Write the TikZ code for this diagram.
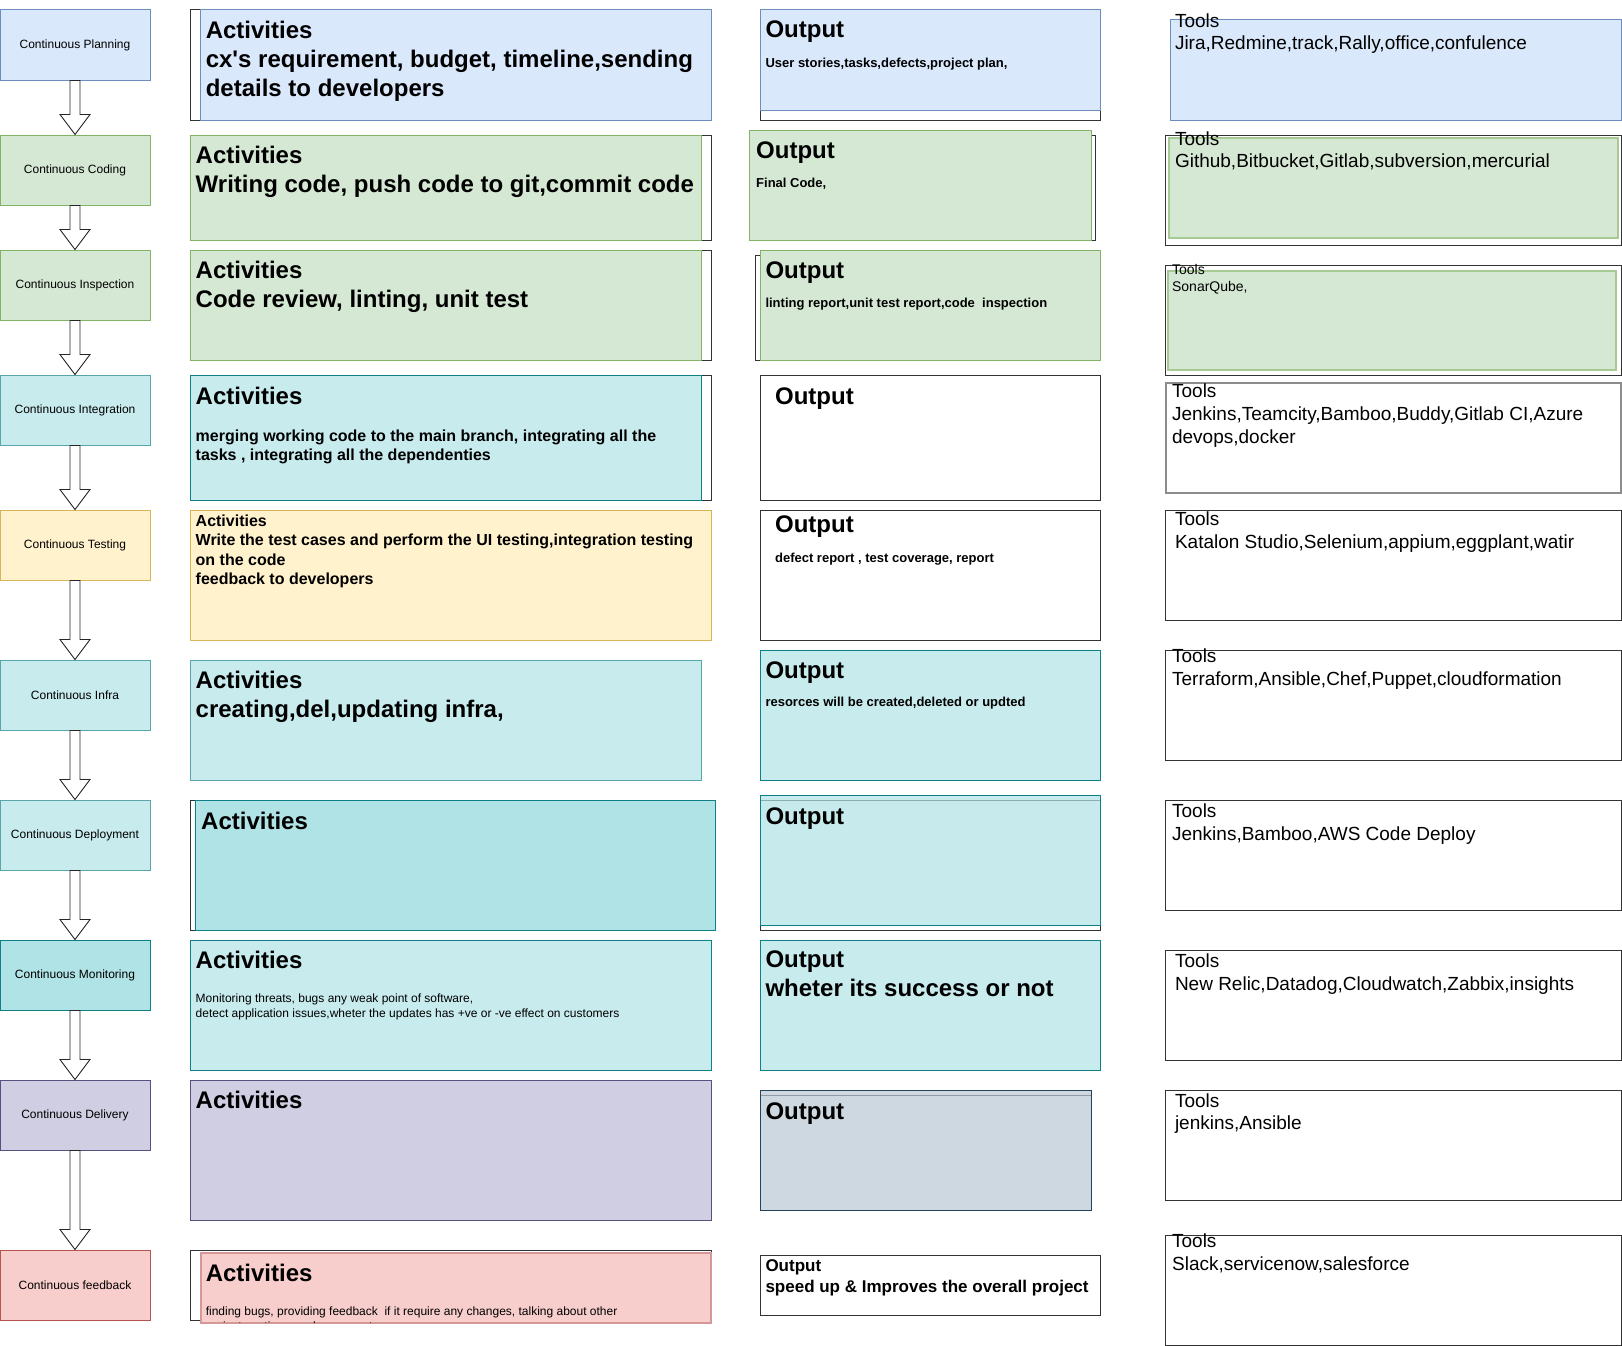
\documentclass[tikz,border=0pt]{standalone}
\usepackage{fontspec}
\setmainfont{Liberation Sans}
\usetikzlibrary{calc}

\definecolor{planfill}{HTML}{DAE8FC}
\definecolor{planline}{HTML}{6C8EBF}
\definecolor{codefill}{HTML}{D5E8D4}
\definecolor{codeline}{HTML}{82B366}
\definecolor{testfill}{HTML}{FFF2CC}
\definecolor{testline}{HTML}{D6B656}
\definecolor{cyanfill}{HTML}{B0E3E6}
\definecolor{cyanline}{HTML}{0E8088}
\definecolor{palefill}{HTML}{C8EBEE}
\definecolor{paleline}{HTML}{56A6AC}
\definecolor{delfill}{HTML}{D0CEE2}
\definecolor{delline}{HTML}{56517E}
\definecolor{fbfill}{HTML}{F8CECC}
\definecolor{fbline}{HTML}{B85450}
\definecolor{grayfill}{HTML}{BAC8D3}
\definecolor{grayline}{HTML}{23445D}

\begin{document}
\begin{tikzpicture}[x=1pt, y=-1pt, line width=1pt,
    stage/.style={draw, minimum width=150pt, minimum height=70pt, inner sep=0pt,
      font=\fontsize{12}{14.4}\selectfont},
    boxframe/.style={draw=black!80, fill=white},
    txt/.style={anchor=north west, inner sep=0pt, align=left,
      execute at begin node={\rule{0pt}{.75em}}},
    txtbig/.style={txt, font=\bfseries\fontsize{24}{28.8}\selectfont},
    txtmid/.style={txt, font=\bfseries\fontsize{16}{19.2}\selectfont},
    txtsmall/.style={txt, font=\bfseries\fontsize{13}{15.6}\selectfont},
    txtnote/.style={txt, font=\fontsize{12}{14.4}\selectfont},
    txttool/.style={txt, font=\fontsize{19}{22.8}\selectfont},
    blockarrow/.style={draw=black!85, fill=white, line width=.9pt}]
    \useasboundingbox (0,0) rectangle (1622,1346);

    % stages
    \node[stage, fill=planfill, draw=planline] (plan) at (75,45) {Continuous Planning};
    \node[stage, fill=codefill, draw=codeline] (code) at (75,170) {Continuous Coding};
    \node[stage, fill=codefill, draw=codeline] (insp) at (75,285) {Continuous Inspection};
    \node[stage, fill=palefill, draw=paleline] (integ) at (75,410) {Continuous Integration};
    \node[stage, fill=testfill, draw=testline] (test) at (75,545) {Continuous Testing};
    \node[stage, fill=palefill, draw=paleline] (infra) at (75,695) {Continuous Infra};
    \node[stage, fill=palefill, draw=paleline] (deploy) at (75,835) {Continuous Deployment};
    \node[stage, fill=cyanfill, draw=cyanline] (monitor) at (75,975) {Continuous Monitoring};
    \node[stage, fill=delfill, draw=delline] (deliver) at (75,1115) {Continuous Delivery};
    \node[stage, fill=fbfill, draw=fbline] (feedback) at (75,1285) {Continuous feedback};

    % block arrows between stages
    \foreach \a/\b in {plan/code, code/insp, insp/integ, integ/test, test/infra,
        infra/deploy, deploy/monitor, monitor/deliver, deliver/feedback}
      \draw[blockarrow] let \p1=(\a.south), \p2=(\b.north) in
        (\x1-5pt,\y1) -- (\x1+5pt,\y1) -- (\x1+5pt,\y2+20pt) -- (\x1+15pt,\y2+20pt)
        -- (\x2,\y2) -- (\x1-15pt,\y2+20pt) -- (\x1-5pt,\y2+20pt) -- cycle;

    % activities
    \draw[boxframe] (190.5,10) rectangle (711,120);
    \draw[fill=planfill, draw=planline] (200.7,10) rectangle (711,120);
    \node[txtbig] (act1) at (205.3,21) {Activities\\cx\textquotesingle s requirement, budget, timeline,sending\\details to developers};

    \draw[boxframe] (190.5,135) rectangle (711,240);
    \draw[fill=codefill, draw=codeline] (190.5,135) rectangle (701,240);
    \node[txtbig] (act2) at (195.2,146) {Activities\\Writing code, push code to git,commit code};

    \draw[boxframe] (190.5,250) rectangle (711,360);
    \draw[fill=codefill, draw=codeline] (190.5,250) rectangle (701,360);
    \node[txtbig] (act3) at (195.2,260.5) {Activities\\Code review, linting, unit test};

    \draw[boxframe] (190.5,375) rectangle (711,500);
    \draw[fill=palefill, draw=cyanline] (190.5,375) rectangle (701,500);
    \node[txtbig] (act4) at (195.2,385.5) {Activities};
    \node[txtmid] (act4b) at (195.2,429) {merging working code to the main branch, integrating all the\\tasks , integrating all the dependenties};

    \draw[fill=testfill, draw=testline] (190.5,510) rectangle (711,640);
    \node[txtmid] (act5) at (195.2,514.5) {Activities\\Write the test cases and perform the UI testing,integration testing\\on the code\\feedback to developers};

    \draw[fill=palefill, draw=paleline] (190.5,660) rectangle (701,780);
    \node[txtbig] (act6) at (195.2,671) {Activities\\creating,del,updating infra,};

    \draw[boxframe] (190.5,800) rectangle (711,930);
    \draw[fill=cyanfill, draw=cyanline] (195.2,800) rectangle (715.4,930);
    \node[txtbig] (act7) at (200.7,810.5) {Activities};

    \draw[fill=palefill, draw=cyanline] (190.5,940) rectangle (711,1070);
    \node[txtbig] (act8) at (195.2,950) {Activities};
    \node[txtnote] (act8b) at (195.2,993.7) {Monitoring threats, bugs any weak point of software,\\detect application issues,wheter the updates has +ve or -ve effect on customers};

    \draw[fill=delfill, draw=delline] (190.5,1080) rectangle (711,1220);
    \node[txtbig] (act9) at (195.2,1089.5) {Activities};

    \draw[boxframe] (190.5,1250) rectangle (711,1320);
    \draw[fill=fbfill, draw=fbline!60, line width=1.6pt] (200.7,1252.7) rectangle (711,1322.7);
    \node[txtbig] (act10) at (205.3,1262.5) {Activities};
    \begin{scope}
      \clip (200.7,1252.7) rectangle (711,1322);
      \node[txtnote] (act10b) at (205.3,1306.5) {finding bugs, providing feedback \ if it require any changes, talking about other\\project continues enhancement};
    \end{scope}

    % outputs
    \draw[boxframe] (760.3,10) rectangle (1100.8,120);
    \draw[fill=planfill, draw=planline] (760.3,10) rectangle (1100.8,110);
    \node[txtbig] (out1) at (765,19.5) {Output};
    \node[txtsmall] (out1b) at (765,57.3) {User stories,tasks,defects,project plan,};

    \draw[boxframe] (749.9,135) rectangle (1095.6,240);
    \draw[fill=codefill, draw=codeline] (749.9,130) rectangle (1091,240);
    \node[txtbig] (out2) at (755.7,140) {Output};
    \node[txtsmall] (out2b) at (755.7,177.4) {Final Code,};

    \draw[boxframe] (755.7,255) rectangle (1100.8,360);
    \draw[fill=codefill, draw=codeline] (760.3,250) rectangle (1100.8,360);
    \node[txtbig] (out3) at (765,259.5) {Output};
    \node[txtsmall] (out3b) at (765,297.4) {linting report,unit test report,code \ inspection};

    \draw[boxframe] (760.3,375) rectangle (1100.8,500);
    \node[txtbig] (out4) at (774.6,385.5) {Output};

    \draw[boxframe] (760.3,510) rectangle (1100.8,640);
    \node[txtbig] (out5) at (774.6,514) {Output};
    \node[txtsmall] (out5b) at (774.6,551.8) {defect report , test coverage, report};

    \draw[fill=palefill, draw=cyanline] (760.3,650) rectangle (1100.8,780);
    \node[txtbig] (out6) at (765,659.8) {Output};
    \node[txtsmall] (out6b) at (765,696.7) {resorces will be created,deleted or updted};

    \draw[boxframe] (760.3,800.7) rectangle (1100.8,930);
    \draw[fill=cyanfill, fill opacity=.7, draw=cyanline] (760.3,795) rectangle (1100.8,925.7);
    \node[txtbig] (out7) at (765,805.5) {Output};

    \draw[fill=palefill, draw=cyanline] (760.3,940) rectangle (1100.8,1070);
    \node[txtbig] (out8) at (765,950.5) {Output\\wheter its success or not};

    \draw[boxframe] (760.3,1095) rectangle (1091,1210);
    \draw[fill=grayfill, fill opacity=.7, draw=grayline] (760.3,1090) rectangle (1091,1210);
    \node[txtbig] (out9) at (765,1100.5) {Output};

    \draw[boxframe] (760.3,1255) rectangle (1100.8,1315);
    \node[txt, font=\bfseries\fontsize{17}{20.4}\selectfont] (out10) at (765,1259.3) {Output\\speed up \& Improves the overall project};

    % tools
    \draw[fill=planfill, draw=planline] (1170.4,20) rectangle (1621,120);
    \node[txttool] (tool1) at (1174.5,12.8) {Tools\\Jira,Redmine,track,Rally,office,confulence};

    \draw[boxframe] (1165.8,135) rectangle (1621,245);
    \draw[fill=codefill, draw=codeline!70, line width=2pt] (1168.8,137.7) rectangle (1617.6,238.3);
    \node[txttool] (tool2) at (1174.5,130.8) {Tools\\Github,Bitbucket,Gitlab,subversion,mercurial};

    \draw[boxframe] (1165.8,265) rectangle (1621,375);
    \draw[fill=codefill, draw=codeline!70, line width=2pt] (1167.6,270.7) rectangle (1616,370);
    \node[txt, font=\fontsize{14}{17}\selectfont] (tool3) at (1171.6,263.5) {Tools\\SonarQube,};

    \draw[fill=white, draw=black!45, line width=1.8pt] (1165.8,382.7) rectangle (1621,493.3);
    \node[txttool] (tool4) at (1171.6,383.3) {Tools\\Jenkins,Teamcity,Bamboo,Buddy,Gitlab CI,Azure\\devops,docker};

    \draw[boxframe] (1165.8,510) rectangle (1621,620);
    \node[txttool] (tool5) at (1174.5,511.3) {Tools\\Katalon Studio,Selenium,appium,eggplant,watir};

    \draw[boxframe] (1165.8,650) rectangle (1621,760);
    \node[txttool] (tool6) at (1171.6,648.3) {Tools\\Terraform,Ansible,Chef,Puppet,cloudformation};

    \draw[boxframe] (1165.8,800) rectangle (1621,910);
    \node[txttool] (tool7) at (1171.6,803.3) {Tools\\Jenkins,Bamboo,AWS Code Deploy};

    \draw[boxframe] (1165.8,950) rectangle (1621,1060);
    \node[txttool] (tool8) at (1174.5,953.3) {Tools\\New Relic,Datadog,Cloudwatch,Zabbix,insights};

    \draw[boxframe] (1165.8,1090) rectangle (1621,1200);
    \node[txttool] (tool9) at (1174.5,1092.8) {Tools\\jenkins,Ansible};

    \draw[boxframe] (1165.8,1235) rectangle (1621,1345);
    \node[txttool] (tool10) at (1171.6,1233.3) {Tools\\Slack,servicenow,salesforce};
\end{tikzpicture}
\end{document}
